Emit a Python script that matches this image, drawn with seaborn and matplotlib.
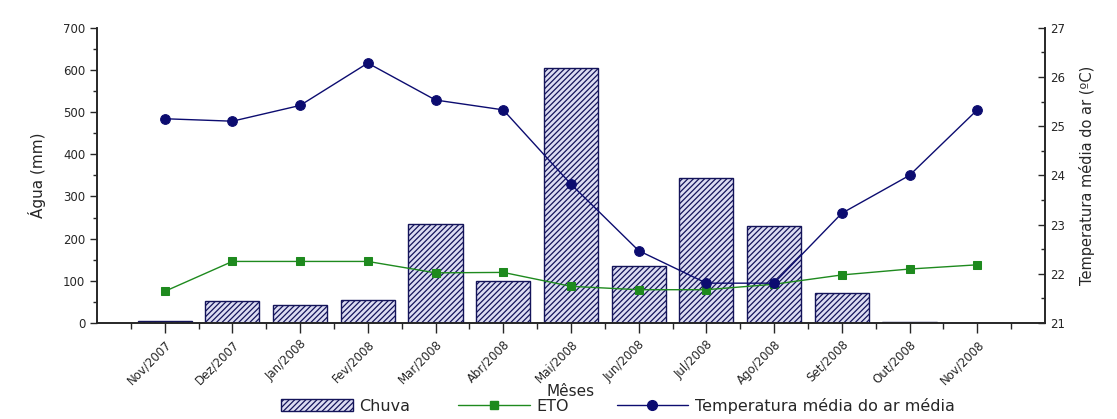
import numpy as np
import pandas as pd
import seaborn as sns
import matplotlib.pyplot as plt
from matplotlib.patches import Patch
from matplotlib.lines import Line2D
from matplotlib.ticker import MultipleLocator

#%% Data
meses = ['Nov/2007', 'Dez/2007', 'Jan/2008', 'Fev/2008', 'Mar/2008', 'Abr/2008', 'Mai/2008',
         'Jun/2008', 'Jul/2008', 'Ago/2008', 'Set/2008', 'Out/2008', 'Nov/2008']
chuva = [6, 53, 42, 54, 235, 100, 604, 135, 344, 230, 71, 2, 0]
eto = [75, 146, 146, 146, 119, 120, 87, 79, 79, 92, 114, 128, 138]
temp = [25.15, 25.10, 25.42, 26.28, 25.53, 25.33, 23.82, 22.47, 21.81, 21.81, 23.23, 24.00, 25.33]

clr_bar_face = '#dcdcf2'
clr_bar_edge = '#14145a'
clr_eto = '#1e8a1e'
clr_temp = '#0c0c70'

#%% Plot
sns.set_style('ticks')
plt.rcParams['hatch.linewidth'] = 0.9
plt.rcParams['font.family'] = ['DejaVu Sans']

fig, ax = plt.subplots(figsize=(11.17, 4.19), dpi=100)
fig.subplots_adjust(left=0.0868, right=0.9355, bottom=0.229, top=0.934)

df = pd.DataFrame({'Mes': meses, 'Chuva': chuva})
sns.barplot(data=df, x='Mes', y='Chuva', ax=ax, color=clr_bar_face, saturation=1,
            edgecolor=clr_bar_edge, linewidth=1.0, width=0.8)
for p in ax.patches:
    p.set_hatch('//////')

xpos = np.arange(len(meses))
sns.lineplot(x=xpos, y=eto, ax=ax, color=clr_eto, lw=1.0, marker='s', markersize=6,
             markeredgecolor=clr_eto, zorder=3)

ax.set_xlim(-1, 13)
ax.set_ylim(0, 700)
ax.yaxis.set_major_locator(MultipleLocator(100))
ax.yaxis.set_minor_locator(MultipleLocator(50))
ax.set_xticks(xpos)
ax.set_xticks(np.arange(-0.5, 13, 1), minor=True)
ax.set_xticklabels(meses, rotation=45, ha='right', rotation_mode='anchor', fontsize=8.5)
ax.tick_params(axis='x', which='major', length=7, width=1, direction='out')
ax.tick_params(axis='x', which='minor', length=4, width=1, direction='out')
ax.tick_params(axis='y', which='major', length=5, width=1, direction='out', labelsize=8.5)
ax.tick_params(axis='y', which='minor', length=3, width=1, direction='out')
ax.set_xlabel('Mêses', fontsize=11, labelpad=-2)
ax.set_ylabel('Água (mm)', fontsize=11, labelpad=12)
ax.spines['top'].set_visible(False)

ax2 = ax.twinx()
sns.lineplot(x=xpos, y=temp, ax=ax2, color=clr_temp, lw=1.0, marker='o', markersize=7,
             markeredgecolor=clr_temp)
ax2.set_ylim(21, 27)
ax2.yaxis.set_major_locator(MultipleLocator(1))
ax2.yaxis.set_minor_locator(MultipleLocator(0.5))
ax2.tick_params(axis='y', which='major', length=5, width=1, direction='in', labelsize=8.5)
ax2.tick_params(axis='y', which='minor', length=3, width=1, direction='in')
ax2.set_ylabel('Temperatura média do ar (ºC)', fontsize=10.5, labelpad=10)
ax2.spines['top'].set_visible(False)
ax2.set_xlim(-1, 13)

for a in (ax, ax2):
    for s in a.spines.values():
        s.set_linewidth(1.2)

handles = [Patch(facecolor=clr_bar_face, edgecolor=clr_bar_edge, hatch='//////', lw=1),
           Line2D([], [], color=clr_eto, lw=1, marker='s', markersize=6),
           Line2D([], [], color=clr_temp, lw=1, marker='o', markersize=7)]
labels = ['Chuva', 'ETO', 'Temperatura média do ar média']
fig.legend(handles, labels, loc='center', bbox_to_anchor=(0.553, 0.032), ncol=3,
           frameon=False, fontsize=11.5, handlelength=4.5, handletextpad=0.4,
           columnspacing=3)

fig.savefig('out.png', dpi=100)
